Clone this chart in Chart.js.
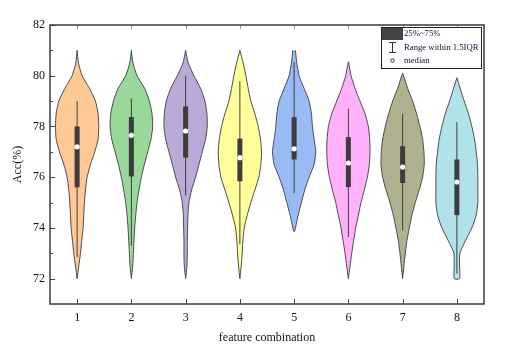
<!DOCTYPE html>
<html>
<head>
<meta charset="utf-8">
<script src="https://cdn.jsdelivr.net/npm/chart.js@4"></script>
<style>
html,body{margin:0;padding:0;background:#fff;}
canvas{display:block;}
</style>
</head>
<body>
<canvas id="c" width="527" height="358"></canvas>
<script>
// ---------- data ----------
const categories = ['1','2','3','4','5','6','7','8'];
const yTicks = [72, 74, 76, 78, 80, 82];
// density levels (Acc %) shared by all violins, top to bottom
const levels = [81, 80.5, 80, 79.5, 79, 78.5, 78, 77.5, 77, 76.5, 76, 75.5, 75, 74.5, 74, 73.5, 73, 72.5, 72];
// estimated violin half-width (relative density) at each level, null = outside range
const dens1 = [0, 4, 15, 37, 55, 63, 65, 63, 53, 40, 30, 25, 22, 20, 18, 14, 10, 5, 0];
const dens2 = [0, 5, 17, 40, 54, 62, 64, 59, 49, 39, 30, 23, 17, 13, 10, 8, 6, 4, 0];
const dens3 = [0, 8, 25, 45, 58, 64, 65, 60, 50, 40, 30, 18, 10, 7, 6, 5, 5, 4, 0];
const dens4 = [0, 10, 18, 25, 33, 45, 55, 62, 65, 63, 57, 45, 33, 22, 13, 9, 7, 4, 0];
const dens5 = [4, 8, 15, 30, 45, 52, 55, 60, 65, 60, 45, 32, 22, 12, 4, null, null, null, null];
const dens6 = [null, 1, 8, 20, 35, 50, 60, 64, 65, 63, 57, 48, 38, 30, 22, 16, 10, 5, 0];
const dens7 = [null, null, 3, 15, 30, 42, 52, 60, 64, 65, 60, 50, 38, 28, 20, 13, 8, 4, 0];
const dens8 = [null, null, null, 10, 22, 35, 45, 53, 58, 62, 63, 63, 63, 58, 45, 26, 9, 8, 8];
const densities = [dens1, dens2, dens3, dens4, dens5, dens6, dens7, dens8];
const violinTop = [81, 81, 81, 81, 81, 80.55, 80.1, 79.92];
const violinBottom = [72, 72, 72, 72, 73.85, 72, 72, 72];
// box-plot statistics
const whiskerLow = [72.85, 73.3, 75.28, 73.35, 75.37, 73.64, 73.9, 72.2];
const q1 = [75.6, 76.03, 76.77, 75.84, 76.7, 75.61, 75.77, 74.5];
const median = [77.2, 77.65, 77.82, 76.77, 77.12, 76.56, 76.4, 75.81];
const q3 = [78.0, 78.37, 78.79, 77.52, 78.37, 77.58, 77.22, 76.7];
const whiskerHigh = [79.0, 79.1, 80.0, 79.79, 80.54, 78.7, 78.5, 78.17];

// ---------- styles ----------
const colors = ['#FFC996', '#98D898', '#BBA9D7', '#FFFF99', '#99BBF5', '#FFB1FA', '#B0B28F', '#B0E2E9'];
const DENS_SCALE = 1 / 163;   // relative density -> category units
const outline = '#4a4a4a';
const boxColor = '#3c3c3c';
const serif = '"Liberation Serif", "Times New Roman", serif';

function violinPoints(i) {
  const c = i + 1;
  const d = densities[i];
  const right = [], left = [];
  if (levels.indexOf(violinTop[i]) < 0) right.push({x: c, y: violinTop[i]});
  levels.forEach((lv, k) => {
    if (d[k] === null) return;
    right.push({x: c + d[k] * DENS_SCALE, y: lv});
  });
  if (levels.indexOf(violinBottom[i]) < 0) right.push({x: c, y: violinBottom[i]});
  for (let k = levels.length - 1; k >= 0; k--) {
    if (d[k] === null) continue;
    left.push({x: c - d[k] * DENS_SCALE, y: levels[k]});
  }
  if (levels.indexOf(violinTop[i]) < 0) left.push({x: c, y: violinTop[i]});
  return right.concat(left);
}

const datasets = [];
categories.forEach((cat, i) => {
  const c = i + 1;
  datasets.push({
    data: violinPoints(i), showLine: true, fill: 'shape', tension: 0.2,
    backgroundColor: colors[i], borderColor: outline, borderWidth: 1,
    pointRadius: 0, order: 4
  });
  datasets.push({
    data: [{x: c, y: whiskerLow[i]}, {x: c, y: whiskerHigh[i]}], showLine: true,
    borderColor: boxColor, borderWidth: 1, pointRadius: 0, order: 3
  });
  datasets.push({
    data: [{x: c, y: q1[i]}, {x: c, y: q3[i]}], showLine: true,
    borderColor: boxColor, borderWidth: 5, borderCapStyle: 'butt', pointRadius: 0, order: 2
  });
  datasets.push({
    data: [{x: c, y: median[i]}], showLine: false,
    pointRadius: 2.6, pointBackgroundColor: '#ffffff', pointBorderWidth: 0, order: 1
  });
});

const framePlugin = {
  id: 'frame',
  afterDraw(chart) {
    const ctx = chart.ctx, a = chart.chartArea;
    const xs = chart.scales.x, ys = chart.scales.y;
    ctx.save();
    // ticks (inward)
    ctx.strokeStyle = '#444';
    ctx.lineWidth = 1;
    ctx.beginPath();
    for (let v = 72; v <= 82; v++) {
      const py = Math.round(ys.getPixelForValue(v)) + 0.5;
      const len = (v % 2 === 0) ? 5 : 3;
      ctx.moveTo(a.left, py); ctx.lineTo(a.left + len, py);
    }
    categories.forEach((cat, i) => {
      const px = Math.round(xs.getPixelForValue(i + 1)) + 0.5;
      ctx.moveTo(px, a.bottom); ctx.lineTo(px, a.bottom - 5);
    });
    ctx.stroke();
    ctx.strokeStyle = '#999';
    ctx.beginPath();
    categories.forEach((cat, i) => {
      const px = Math.round(xs.getPixelForValue(i + 1)) + 0.5;
      ctx.moveTo(px, a.top); ctx.lineTo(px, a.top + 4);
    });
    ctx.stroke();
    // frame
    ctx.strokeStyle = '#3a3a3a';
    ctx.lineWidth = 1.5;
    ctx.strokeRect(a.left, a.top, a.right - a.left, a.bottom - a.top);

    // legend box
    const lx = 381, ly = 27, lw = 100, lh = 41;
    ctx.fillStyle = '#fff';
    ctx.fillRect(lx, ly, lw, lh);
    ctx.strokeStyle = '#222';
    ctx.lineWidth = 1;
    ctx.strokeRect(lx + 0.5, ly + 0.5, lw, lh);
    ctx.fillStyle = '#444';
    ctx.fillRect(lx + 1, ly + 1, 21, 12);
    // I-bar
    ctx.strokeStyle = '#333';
    ctx.beginPath();
    ctx.moveTo(392.5, 42); ctx.lineTo(392.5, 53);
    ctx.moveTo(389, 42.5); ctx.lineTo(396, 42.5);
    ctx.moveTo(389, 52.5); ctx.lineTo(396, 52.5);
    ctx.stroke();
    // circle
    ctx.beginPath();
    ctx.arc(392.5, 60.5, 1.8, 0, Math.PI * 2);
    ctx.stroke();
    ctx.fillStyle = '#111133';
    ctx.font = '8.7px ' + serif;
    ctx.textBaseline = 'middle';
    ctx.textAlign = 'left';
    ctx.fillText('25%~75%', 404, 34);
    ctx.fillText('Range within 1.5IQR', 404, 47.5);
    ctx.fillText('median', 404, 61);
    ctx.restore();
  }
};

new Chart(document.getElementById('c'), {
  type: 'scatter',
  data: { datasets },
  options: {
    responsive: false,
    animation: false,
    devicePixelRatio: 1,
    layout: { padding: { top: 25, right: 43, left: 0, bottom: 0 } },
    plugins: { legend: { display: false }, tooltip: { enabled: false } },
    scales: {
      x: {
        type: 'linear', min: 0.5, max: 8.5,
        afterBuildTicks(s) { s.ticks = categories.map((c, i) => ({ value: i + 1 })); },
        afterFit(s) { s.height = 54; },
        grid: { display: false, drawTicks: false },
        border: { display: false },
        ticks: {
          padding: 7, color: '#111', font: { family: serif, size: 12 },
          callback: (v, idx) => categories[idx]
        },
        title: { display: true, text: 'feature combination', color: '#111',
                 font: { family: serif, size: 12 }, padding: { top: 4, bottom: 13 } }
      },
      y: {
        type: 'linear', min: 71, max: 82,
        afterBuildTicks(s) { s.ticks = yTicks.map(v => ({ value: v })); },
        afterFit(s) { s.width = 50; },
        grid: { display: false, drawTicks: false },
        border: { display: false },
        ticks: { padding: 5, color: '#111', font: { family: serif, size: 12 } },
        title: { display: true, text: 'Acc(%)', color: '#111',
                 font: { family: serif, size: 12 }, padding: { top: 11, bottom: 2 } }
      }
    }
  },
  plugins: [framePlugin]
});
</script>
</body>
</html>
